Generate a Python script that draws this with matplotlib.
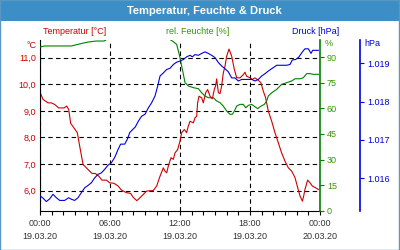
import matplotlib
matplotlib.use('Agg')
import matplotlib.pyplot as plt
from matplotlib.ticker import FuncFormatter, MultipleLocator
from matplotlib.patches import Rectangle

# data (hours since 19.03.20 00:00)
temp_h = [0, 0.26, 0.69, 0.97, 1.26, 1.6, 2.06, 2.29, 2.46, 2.63, 2.91, 3.2, 3.4, 3.69, 4.11,
          4.46, 4.74, 5.03, 5.31, 5.69, 5.97, 6.34, 6.69, 6.97, 7.4, 7.77, 8.0, 8.29, 8.43, 8.71,
          9.14, 9.71, 10.0, 10.29, 10.57, 10.71, 10.86, 11.0, 11.23, 11.43, 11.57, 11.8, 12.0,
          12.14, 12.37, 12.57, 12.71, 12.86, 13.14, 13.29, 13.43, 13.51, 13.63, 13.86, 14.0, 14.2,
          14.37, 14.57, 14.77, 14.94, 15.06, 15.14, 15.29, 15.43, 15.57, 15.71, 15.86, 16.0, 16.2,
          16.43, 16.66, 16.86, 17.14, 17.43, 17.57, 17.71, 18.0, 18.2, 18.43, 18.71, 18.94, 19.14,
          19.34, 19.57, 19.86, 20.14, 20.43, 20.71, 21.0, 21.29, 21.57, 21.86, 22.09, 22.29, 22.49,
          22.6, 22.71, 22.94, 23.14, 23.34, 23.63, 23.86]
temps = [9.70, 9.43, 9.30, 9.30, 9.24, 9.11, 9.11, 9.18, 9.05, 8.53, 8.36, 8.18, 7.68, 6.99, 6.80,
         6.65, 6.65, 6.55, 6.40, 6.40, 6.30, 6.28, 6.18, 6.03, 5.93, 5.90, 5.75, 5.63, 5.68, 5.80,
         5.99, 6.01, 6.18, 6.55, 6.86, 6.74, 6.67, 6.93, 7.24, 7.18, 7.42, 7.55, 7.86,
         8.18, 8.30, 8.18, 8.43, 8.61, 8.55, 8.74, 8.80, 9.30, 9.55, 9.49, 9.30, 9.68,
         9.80, 9.55, 9.45, 9.80, 9.95, 10.20, 9.68, 9.65, 9.93, 10.42, 10.68, 11.05, 11.32,
         11.05, 10.55, 10.24, 10.24, 10.36, 10.45, 10.30, 10.24, 10.18, 10.24, 10.15, 10.05, 9.74,
         9.49, 8.99, 8.61, 8.18, 7.80, 7.42, 7.11, 6.86, 6.74, 6.49, 6.11, 5.80, 5.61,
         5.80, 6.05, 6.40, 6.30, 6.18, 6.11, 6.05]

hum_h = [0, 0.4, 1.26, 2.69, 3.4, 4.11, 4.83, 5.49, 5.9, 11.0, 11.34, 11.71, 11.86, 12.0,
         12.14, 12.29, 12.43, 12.71, 13.14, 13.57, 13.86, 14.14, 14.43, 14.86, 15.14, 15.43,
         15.71, 16.0, 16.29, 16.49, 16.66, 16.86, 17.14, 17.43, 17.63, 17.86, 18.14, 18.43,
         18.66, 18.94, 19.23, 19.43, 19.57, 19.86, 20.29, 20.71, 21.14, 21.57, 21.86, 22.29,
         22.57, 22.86, 23.14, 23.43, 23.86]
hum = [95.9, 96.5, 96.5, 96.5, 97.7, 98.8, 99.4, 99.4, 101, 101, 99.4, 97.5, 93.6, 89.6,
       84.8, 79.9, 75.0, 73.1, 72.1, 71.5, 69.1, 67.2, 66.2, 66.2, 64.3, 63.3,
       61.3, 58.4, 56.5, 56.5, 58.4, 61.3, 62.3, 62.3, 60.3, 61.7, 62.3, 60.9,
       59.8, 61.3, 62.3, 64.3, 67.2, 69.1, 71.1, 74.0, 75.0, 76.0, 77.3, 77.3,
       77.9, 80.3, 80.3, 79.9, 79.9]

pres_h = [0, 0.26, 0.54, 0.83, 1.11, 1.4, 1.69, 2.11, 2.46, 2.69, 2.97, 3.26, 3.54, 3.83, 4.11,
          4.4, 4.69, 4.97, 5.26, 5.54, 5.83, 6.11, 6.4, 6.69, 6.91, 7.26, 7.49, 7.69, 7.97, 8.17,
          8.43, 8.71, 9.0, 9.29, 9.57, 9.86, 10.09, 10.29, 10.57, 10.86, 11.14, 11.43, 11.71, 12.0,
          12.29, 12.57, 12.86, 13.06, 13.29, 13.57, 13.86, 14.14, 14.43, 14.71, 15.0, 15.29, 15.57,
          15.86, 16.14, 16.43, 16.71, 17.0, 17.29, 17.71, 18.14, 18.43, 18.71, 19.0, 19.29, 19.57,
          20.0, 20.29, 20.71, 21.14, 21.43, 21.63, 21.91, 22.2, 22.49, 22.71, 23.0, 23.23, 23.37,
          23.63, 23.86]
pres = [1015.54, 1015.48, 1015.39, 1015.46, 1015.58, 1015.49, 1015.42, 1015.42, 1015.49, 1015.45,
        1015.42, 1015.49, 1015.62, 1015.75, 1015.81, 1015.88, 1016.01, 1016.10, 1016.14, 1016.23,
        1016.34, 1016.40, 1016.54, 1016.75, 1016.89, 1016.89, 1017.02, 1017.19, 1017.28, 1017.34,
        1017.49, 1017.62, 1017.67, 1017.84, 1017.97, 1018.15, 1018.41, 1018.67, 1018.75, 1018.84,
        1018.87, 1018.97, 1019.03, 1019.06, 1019.10, 1019.17, 1019.21, 1019.17, 1019.23, 1019.21,
        1019.26, 1019.30, 1019.26, 1019.21, 1019.15, 1019.02, 1018.93, 1018.86, 1018.78, 1018.62,
        1018.62, 1018.54, 1018.58, 1018.58, 1018.58, 1018.54, 1018.58, 1018.67, 1018.73, 1018.80,
        1018.89, 1018.95, 1018.95, 1018.95, 1018.97, 1019.09, 1019.10, 1019.17, 1019.30, 1019.38,
        1019.38, 1019.26, 1019.34, 1019.34, 1019.34]

x_ticks = [0, 6, 12, 18, 24]
x_labels = ['00:00\n19.03.20', '06:00\n19.03.20', '12:00\n19.03.20', '18:00\n19.03.20', '00:00\n20.03.20']
temp_ticks = [6, 7, 8, 9, 10, 11]
hum_ticks = [0, 15, 30, 45, 60, 75, 90]
pres_ticks = [1016, 1017, 1018, 1019]

RED = '#cc0000'
GREEN = '#008000'
GREEN_TXT = '#3a9400'
BLUE = '#0000dd'
BAR = '#3b8fc6'

plt.rcParams['font.family'] = ['Liberation Sans', 'DejaVu Sans']
plt.rcParams['font.size'] = 6.5

fig = plt.figure(figsize=(4, 2.5), dpi=100)
fig.patch.set_facecolor('white')

# title bar + frame
fig.add_artist(Rectangle((0, 0.916), 1, 0.084, transform=fig.transFigure,
                         facecolor=BAR, edgecolor='none'))
fig.add_artist(Rectangle((0.0012, 0.002), 0.9975, 0.997, transform=fig.transFigure,
                         facecolor='none', edgecolor='#5a97c2', lw=1))
fig.text(0.51, 0.955, 'Temperatur, Feuchte & Druck', color='white', ha='center',
         va='center', fontsize=8, fontweight='bold')

ax = fig.add_axes([0.1, 0.157, 0.7, 0.683])
ax.plot(temp_h, temps, color=RED, lw=0.8)
ax.set_xlim(0, 24)
ax.set_ylim(5.25, 11.66)
ax.set_xticks(x_ticks)
ax.set_xticklabels(x_labels, color='#333333', linespacing=1.6)
ax.xaxis.set_minor_locator(MultipleLocator(1))
ax.tick_params(axis='x', which='both', direction='out', length=3, width=0.8, pad=3)
ax.set_yticks(temp_ticks)
ax.yaxis.set_major_formatter(FuncFormatter(lambda v, p: f'{v:.1f}'.replace('.', ',')))
ax.tick_params(axis='y', colors=RED, length=0, pad=3)
ax.grid(True, color='black', linestyle=(0, (4, 3)), lw=0.8)
ax.spines['top'].set_visible(False)
ax.spines['right'].set_visible(False)
for s in ['left', 'bottom']:
    ax.spines[s].set_linewidth(0.8)

ax2 = ax.twinx()
ax2.plot(hum_h, hum, color=GREEN, lw=0.8)
ax2.set_ylim(0, 100)
ax2.set_yticks(hum_ticks)
ax2.tick_params(axis='y', colors=GREEN, labelcolor=GREEN_TXT, length=3, width=0.8, pad=2)
ax2.spines['right'].set_color(GREEN)
ax2.spines['right'].set_linewidth(1.2)
for s in ['top', 'left', 'bottom']:
    ax2.spines[s].set_visible(False)

ax3 = ax.twinx()
ax3.plot(pres_h, pres, color=BLUE, lw=0.8)
ax3.set_ylim(1015.15, 1019.61)
ax3.set_yticks(pres_ticks)
ax3.yaxis.set_major_formatter(FuncFormatter(lambda v, p: f'{v:,.0f}'.replace(',', '.')))
ax3.spines['right'].set_position(('axes', 1.143))
ax3.spines['right'].set_color(BLUE)
ax3.spines['right'].set_linewidth(1.2)
for s in ['top', 'left', 'bottom']:
    ax3.spines[s].set_visible(False)
ax3.tick_params(axis='y', colors=BLUE, length=3, width=0.8, pad=2)

# unit labels and legend row
fig.text(0.092, 0.82, '°C', color=RED, ha='right', va='center')
fig.text(0.812, 0.824, '%', color=GREEN_TXT, ha='left', va='center')
fig.text(0.912, 0.824, 'hPa', color=BLUE, ha='left', va='center')
fig.text(0.107, 0.876, 'Temperatur [°C]', color=RED, ha='left', va='center')
fig.text(0.494, 0.876, 'rel. Feuchte [%]', color=GREEN_TXT, ha='center', va='center')
fig.text(0.79, 0.876, 'Druck [hPa]', color=BLUE, ha='center', va='center')

fig.savefig('out.png', dpi=100)
